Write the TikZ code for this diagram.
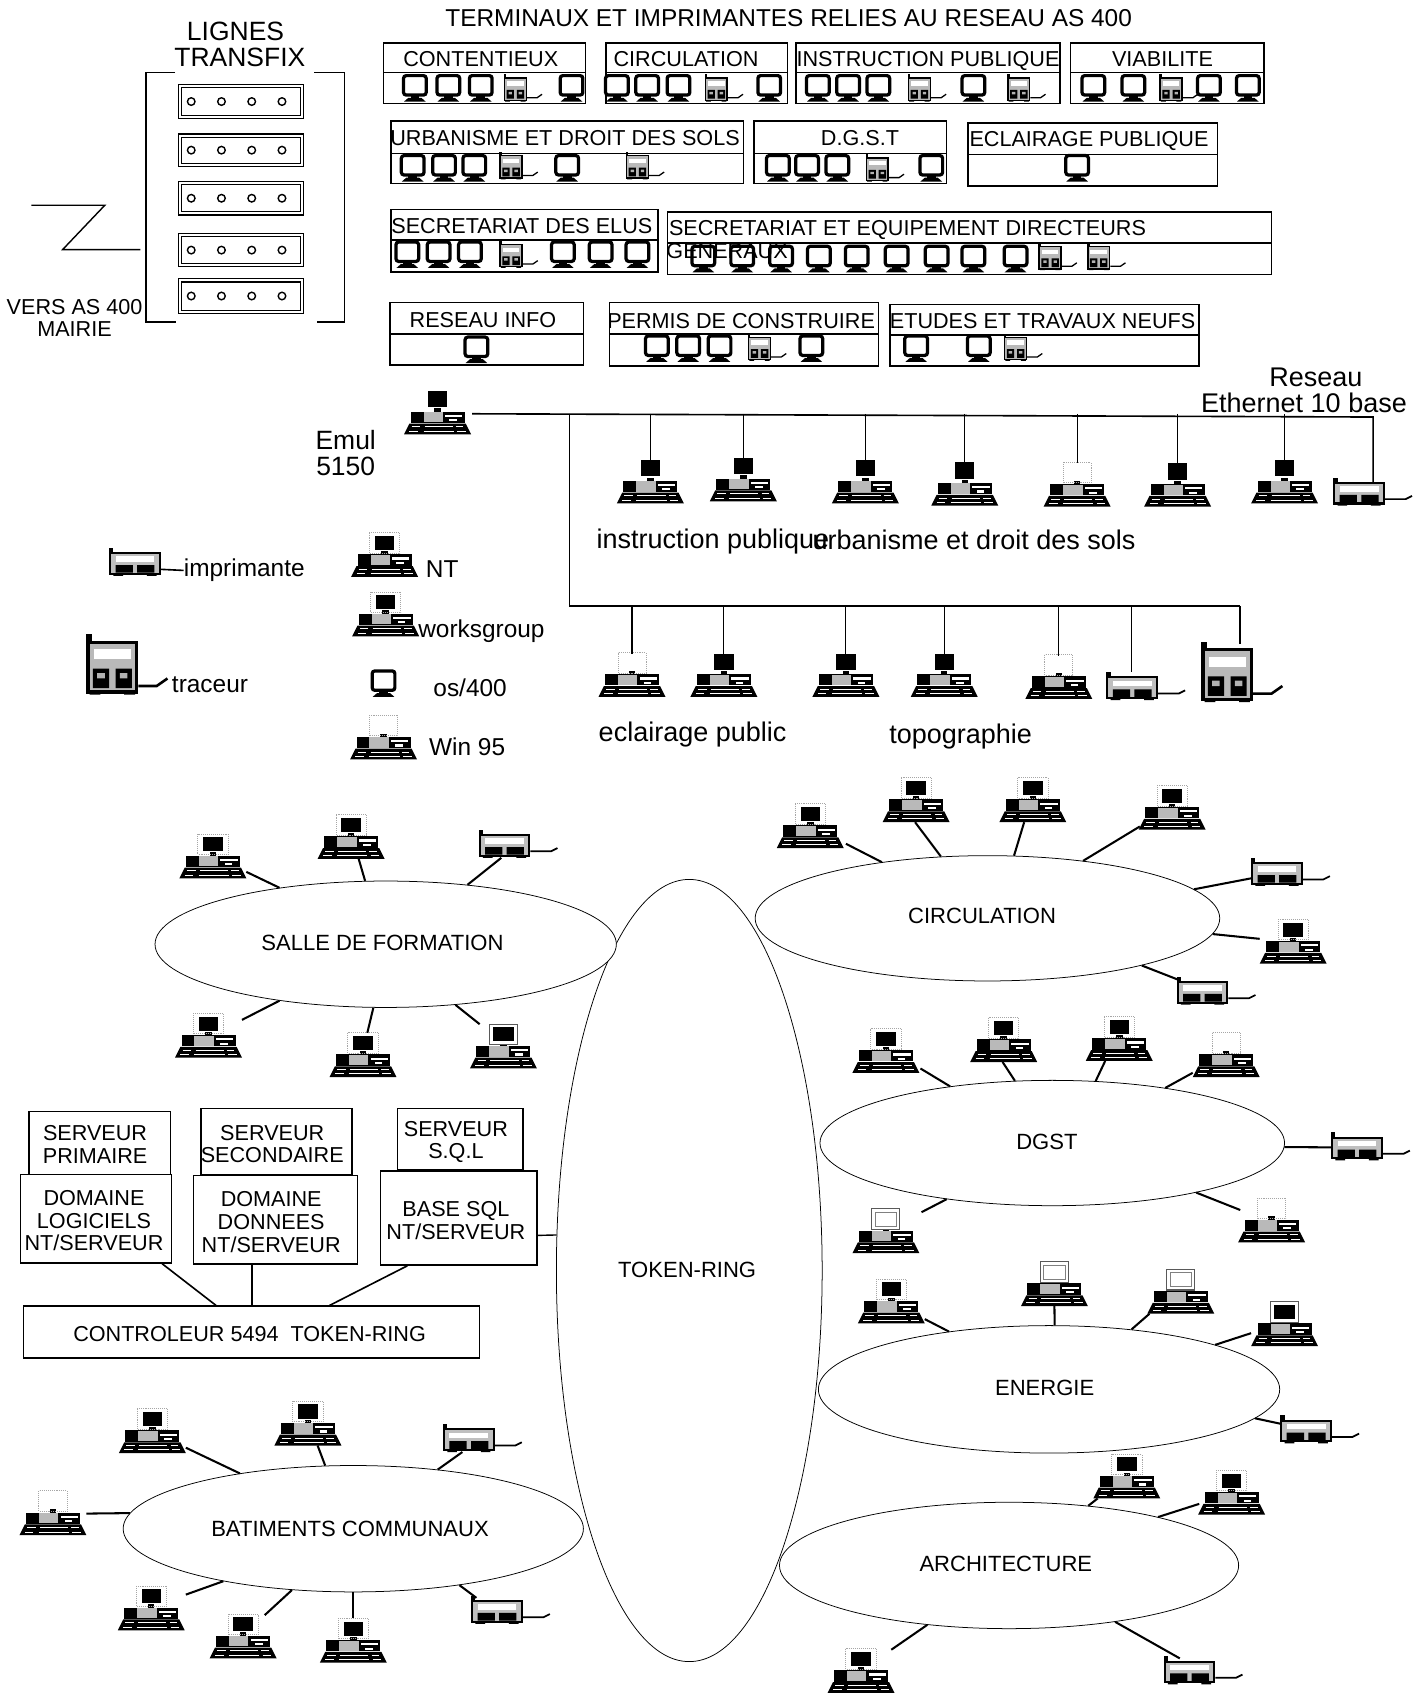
\documentclass[tikz,border=0pt]{standalone}
\usepackage{fontspec}
\setmainfont{Liberation Sans}
\usetikzlibrary{calc,shapes.geometric}
\newcommand\pcbase{%
 \fill[black] (-31,0)--(31,0)--(26,-10)--(-26,-10)--cycle;
 \draw[white,line width=.8] (-24,-7)--(-16,-7) (-12,-7)--(14,-7) (17,-7)--(24,-7) (-26,-3)--(-18,-3) (-13,-3)--(15,-3) (18,-3)--(26,-3);
 \fill[black] (-25,-21) rectangle (25,-10.5);
 \fill[gray!55] (-13,-20.5) rectangle (5,-11);
 \fill[white] (7,-18) rectangle (23,-16);
 \fill[white] (11,-14) rectangle (18,-12);
 \fill[black] (-3,-24) rectangle (3,-21);
 \coordinate (-top) at (0,-40);}
\newcommand\plotbody{%
 \fill[black] (-24,-50) rectangle (24,-1);
 \fill[black] (-24,-56) rectangle (-19,-50);
 \fill[black] (-21,0) rectangle (-11,-2) (11,0) rectangle (21,-2);
 \fill[gray!55] (-21,-47) rectangle (21,-4);
 \fill[white] (-17,-42) rectangle (17,-33);
 \fill[black] (-18,-24) rectangle (-3,-6) (3,-24) rectangle (18,-6);
 \fill[gray!60] (-14,-20) rectangle (-7,-15) (7,-20) rectangle (14,-15);}
\tikzset{
 pcb/.pic={\pcbase
  \draw[gray!70,densely dotted,line width=.8] (-14,-41) rectangle (14,-22);
  \fill[black] (-9,-38) rectangle (9,-25);},
 pcn/.pic={\pcbase
  \fill[black] (-9,-40) rectangle (9,-25);},
 pcw/.pic={\pcbase
  \draw[gray!70!black,fill=white,line width=1] (-13,-41) rectangle (13,-22);
  \draw[gray,line width=.6] (-10,-38) rectangle (10,-25);},
 pcf/.pic={\pcbase
  \draw[gray!70!black,fill=white,line width=1] (-13,-41) rectangle (13,-22);
  \fill[black] (-10,-38) rectangle (10,-25);},
 pcd/.pic={\pcbase
  \draw[gray!70,densely dotted,line width=.8] (-13,-41) rectangle (13,-22);},
 term/.pic={
  \draw[black,fill=white,line width=3,rounded corners=2.5] (-10.5,-24) rectangle (10.5,-6);
  \fill[black] (-4,-6) rectangle (4,-3);
  \fill[black] (-10,0)--(10,0)--(6,-3.5)--(-6,-3.5)--cycle;},
 plot/.pic={\plotbody
  \draw[black,line width=2.4] (24,-8)--(41,-8)--(51,-15);},
 plots/.pic={\plotbody
  \draw[black,line width=1.2] (24,-8)--(45,-8)--(55,-15);},
 prnbody/.pic={
  \fill[black] (-24,-22) rectangle (24,-1);
  \fill[black] (-24,-26) rectangle (-20,-22);
  \fill[black] (-20,0) rectangle (-11,-1.5) (11,0) rectangle (20,-1.5);
  \fill[gray!50] (-22,-20) rectangle (22,-3);
  \fill[white] (-18,-18) rectangle (18,-13);
  \fill[black] (-18,-10) rectangle (-2,-3) (2,-10) rectangle (18,-3);
  \coordinate (-r) at (24,-6);},
 prn/.pic={
  \pic {prnbody};
  \draw[black,line width=1.6] (24,-6)--(43,-6)--(49,-9);},
 box/.style={draw=black,line width=1.4},
 bigrule/.style={black,line width=1.5},
 wire/.style={black,line width=1.9},
 ring/.style={ellipse,draw=black,line width=.7,fill=white,inner sep=0},
 ringtxt/.style={inner sep=0,font=\fontsize{20.4}{23}\selectfont},
 srv/.style={rectangle,draw=black,line width=1.3,inner sep=0},
 srvtxt/.style={inner sep=0,align=center,font=\fontsize{20}{21}\selectfont},
 tb/.style={inner sep=0,text depth=0pt,font=\fontsize{20}{24}\selectfont},
 tl/.style={inner sep=0,anchor=west,font=\fontsize{22.6}{26}\selectfont},
 tn/.style={inner sep=0,anchor=west,font=\fontsize{25}{27}\selectfont},
 th/.style={inner sep=0,font=\fontsize{24.5}{26}\selectfont},
 tv/.style={inner sep=0,font=\fontsize{20}{22}\selectfont},
 unit/.style={draw=black,line width=1},
 hole/.style={circle,draw=black,line width=1.3,inner sep=0,minimum width=7,minimum height=7}
}
% name, x1,y1,x2,ysplit,y2, labelx,labely, label
\newcommand\tbox[9]{%
 \draw[box] (#2,#3) rectangle (#4,#6);
 \draw[box] (#2,#5) -- (#4,#5);
 \node[tb] (#1) at (#7,#8) {#9};}
\newcommand\terms[2]{\foreach \xx in {#2} {\pic at (\xx,#1) {term};}}
\newcommand\minis[2]{\foreach \xx in {#2} {\pic[scale=.45] at (\xx,#1) {plots};}}
\newcommand\rackunit[2]{%
 \draw[unit] (165,#1) rectangle (281,#2);
 \draw[unit] (168,{#1+3}) rectangle (278,{#2-3});
 \foreach \xx in {177,205,233,261} {\node[hole] at (\xx,{(#1+#2)/2}) {};}}
% free end name, ellipse, free x,y, aim x,y on border
\newcommand\lk[6]{%
 \coordinate (#1) at (#3,#4);
 \draw[wire] let \p1=($(#5,#6)-(#2.center)$),\n1={atan2(\y1,\x1)} in (#1) -- (#2.\n1);}
\begin{document}
\begin{tikzpicture}[x=1pt,y=-1pt]
\useasboundingbox (0,0) rectangle (1320,1568);
% --- title
\node[inner sep=0,font=\fontsize{22.6}{26}\selectfont] (title) at (730,17) {TERMINAUX ET IMPRIMANTES RELIES AU RESEAU AS 400};
% --- transfix
\node[th] (lignes) at (218,29) {LIGNES};
\node[th] (transfix) at (222,53) {TRANSFIX};
\draw[bigrule] (162,67)--(135,67)--(135,298)--(163,298);
\draw[bigrule] (291,67)--(319,67)--(319,298)--(293,298);
\rackunit{78}{110}
\rackunit{124}{154}
\rackunit{168}{199}
\rackunit{216}{247}
\rackunit{258}{290}
\draw[black,line width=1.3] (29,190)--(97,190)--(58,231)--(130,231);
\node[tv] (vers) at (69,284) {VERS AS 400};
\node[tv] (mairie) at (69,305) {MAIRIE};
% --- terminal boxes
\tbox{bcont}{355}{40}{542}{67}{96}{445}{55}{CONTENTIEUX}
\terms{94}{384,415,445,529}\minis{94}{477}
\tbox{bcirc}{561}{40}{729}{67}{96}{635}{55}{CIRCULATION}
\terms{94}{571,599,628,712}\minis{94}{663}
\tbox{binst}{737}{40}{981}{67}{96}{859}{55}{INSTRUCTION PUBLIQUE}
\terms{94}{757,785,813,901}\minis{94}{851,943}
\tbox{bvia}{991}{40}{1170}{67}{96}{1076}{55}{VIABILITE}
\terms{94}{1012,1049,1119,1155}\minis{94}{1084}
\tbox{burb}{362}{112}{688}{142}{170}{523}{128}{URBANISME ET DROIT DES SOLS}
\terms{168}{382,411,439,525}\minis{166}{473,590}
\tbox{bdgst}{698}{112}{876}{142}{170}{796}{128}{D.G.S.T}
\terms{168}{720,747,775,862}\minis{168}{812}
\tbox{becl}{896}{114}{1127}{143}{172}{1008}{129}{ECLAIRAGE PUBLIQUE}
\terms{168}{997}
\tbox{bsec}{362}{194}{609}{222}{252}{483}{209}{SECRETARIAT DES ELUS}
\terms{248}{377,406,435,521,556,590}\minis{248}{473}
\tbox{bsecd}{618}{196}{1177}{225}{254}{840}{211}{SECRETARIAT ET EQUIPEMENT DIRECTEURS}
\terms{252}{651,687,723,758,793,830,867,901,940}\minis{250}{972,1017}
\node[tb] (bsecd2) at (673,232) {GENERAUX};
\tbox{bres}{361}{280}{540}{309}{338}{447}{296}{RESEAU INFO}
\terms{336}{441}
\tbox{bper}{564}{280}{813}{309}{339}{686}{297}{PERMIS DE CONSTRUIRE}
\terms{335}{608,637,666,751}\minis{334}{703}
\tbox{betu}{824}{282}{1110}{310}{339}{965}{297}{ETUDES ET TRAVAUX NEUFS}
\terms{335}{848,906}\minis{334}{940}
% --- ethernet
\pic (emul) at (405,402) {pcn};
\node[th] (emula) at (320,407) {Emul};
\node[th] (emulb) at (320,432) {5150};
\node[inner sep=0,font=\fontsize{25}{27}\selectfont] (res1) at (1218,349) {Reseau};
\node[inner sep=0,font=\fontsize{25}{27}\selectfont] (res2) at (1207,373) {Ethernet 10 base};
\coordinate (busL) at (437,383);
\coordinate (busR) at (1271,386);
\coordinate (branch) at (527,383);
\coordinate (lowL) at (527,561);
\coordinate (lowR) at (1148,561);
\foreach \n/\x/\y/\k in {a/602/466/pcn,b/688/464/pcn,c/801/466/pcn,d/893/468/pcn,e/997/469/pcd,f/1090/469/pcn,g/1189/466/pcn}{
 \pic (u\n) at (\x,\y) {\k};
 \draw[black,line width=1] (u\n-top |- busL) -- (u\n-top);
}
\pic (uprn) at (1258,468) {prn};
\draw[bigrule] (busL) -- (busR) -- ++(0,61) coordinate (uprnT);
\draw[bigrule] (branch) -- (lowL) -- (lowR);
\node[tn] (inst) at (552,501) {instruction publique};
\node[tn] (urb) at (752,500) {urbanisme et droit des sols};
\foreach \n/\x/\y/\k in {a/585/645/pcd,b/670/645/pcn,c/783/645/pcn,d/874/645/pcn,e/980/647/pcd}{
 \pic (l\n) at (\x,\y) {\k};
 \draw[black,line width=1] (l\n-top |- lowL) -- (l\n-top);
}
\pic (lprn) at (1048,648) {prn};
\coordinate (lprnT) at (1047,622);
\draw[black,line width=1] (lprnT |- lowL) -- (lprnT);
\pic at (1136,650) {plot};
\coordinate (lplotT) at (1148,596);
\draw[bigrule] (lowR) -- (lplotT);
\node[tn] (ecl) at (554,680) {eclairage public};
\node[tn] (topo) at (823,682) {topographie};
% --- legend
\node[tl] (timp) at (170,528) {imprimante};
\pic (legp) at (125,533) {prnbody};
\draw[black,line width=1.5] (legp-r) -- (timp.west);
\pic at (104,643) {plot};
\node[tl] (ttrac) at (159,634) {traceur};
\pic at (356,534) {pcb};
\node[tl] (tnt) at (394,527) {NT};
\pic at (357,589) {pcb};
\node[tl] (twork) at (387,584) {worksgroup};
\pic at (355,645) {term};
\node[tl] (tos) at (401,637) {os/400};
\pic at (355,703) {pcd};
\node[tl] (twin) at (397,691) {Win 95};
% --- rings
\node[ring,minimum width=246,minimum height=724] (tr) at (638,1176) {};
\node[ringtxt] (trt) at (636,1175) {TOKEN-RING};
\node[ring,minimum width=427,minimum height=117] (sf) at (357,874) {};
\node[ringtxt] (sft) at (354,873) {SALLE DE FORMATION};
\node[ring,minimum width=430,minimum height=116] (ci) at (914,850) {};
\node[ringtxt] (cit) at (909,848) {CIRCULATION};
\node[ring,minimum width=430,minimum height=116] (dg) at (974,1058) {};
\node[ringtxt] (dgt) at (969,1057) {DGST};
\node[ring,minimum width=427,minimum height=118] (en) at (971,1286) {};
\node[ringtxt] (ent) at (967,1285) {ENERGIE};
\node[ring,minimum width=425,minimum height=117] (ar) at (934,1449) {};
\node[ringtxt] (art) at (931,1448) {ARCHITECTURE};
\node[ring,minimum width=426,minimum height=117] (ba) at (327,1415) {};
\node[ringtxt] (bat) at (324,1415) {BATIMENTS COMMUNAUX};
% salle
\pic at (197,813) {pcb}; \lk{sa}{sf}{228}{807}{256}{822}
\pic at (325,795) {pcb}; \lk{sb}{sf}{332}{795}{338}{816}
\pic at (467,794) {prn}; \lk{sc}{sf}{464}{794}{430}{819}
\pic at (193,979) {pcb}; \lk{sd}{sf}{224}{944}{257}{926}
\pic at (336,997) {pcb}; \lk{se}{sf}{340}{956}{345}{932}
\pic at (466,989) {pcf}; \lk{sg}{sf}{444}{948}{421}{930}
% circulation
\pic at (750,785) {pcb}; \lk{ca}{ci}{783}{781}{812}{796}
\pic at (848,761) {pcb}; \lk{cb}{ci}{847}{761}{869}{791}
\pic at (956,761) {pcb}; \lk{cc}{ci}{948}{761}{938}{791}
\pic at (1085,768) {pcb}; \lk{cd}{ci}{1055}{765}{1003}{796}
\pic at (1182,820) {prn}; \lk{ce}{ci}{1158}{813}{1103}{821}
\pic at (1197,892) {pcb}; \lk{cf}{ci}{1166}{869}{1123}{865}
\pic at (1113,930) {prn}; \lk{cg}{ci}{1091}{907}{1055}{895}
% dgst
\pic at (820,993) {pcb}; \lk{da}{dg}{852}{989}{878}{1005}
\pic at (929,983) {pcb}; \lk{db}{dg}{928}{983}{938}{1000}
\pic at (1036,982) {pcb}; \lk{dc}{dg}{1023}{982}{1013}{1001}
\pic at (1135,997) {pcd}; \lk{dd}{dg}{1104}{993}{1077}{1006}
\pic (dprn) at (1256,1074) {prn}; \lk{de}{dg}{1232}{1062}{1191}{1062}
\pic at (1177,1150) {pcd}; \lk{df}{dg}{1148}{1120}{1108}{1106}
\pic at (820,1160) {pcw}; \lk{dh}{dg}{853}{1122}{877}{1109}
% energie
\pic at (825,1225) {pcb}; \lk{ea}{en}{856}{1221}{876}{1233}
\pic at (976,1209) {pcw}; \lk{eb}{en}{976}{1209}{976}{1227}
\pic at (1093,1216) {pcw}; \lk{ec}{en}{1064}{1216}{1046}{1231}
\pic at (1189,1246) {pcf}; \lk{ed}{en}{1158}{1234}{1121}{1245}
\pic at (1209,1336) {prn}; \lk{ee}{en}{1186}{1318}{1160}{1314}
% architecture
\pic at (1043,1387) {pcb}; \lk{aa}{ar}{1016}{1387}{1006}{1394}
\pic at (1140,1402) {pcb}; \lk{ab}{ar}{1110}{1392}{1072}{1404}
\pic at (797,1567) {pcb}; \lk{ac}{ar}{825}{1527}{859}{1503}
\pic at (1101,1559) {prn}; \lk{ad}{ar}{1092}{1535}{1032}{1502}
% batiments
\pic at (141,1345) {pcb}; \lk{ga}{ba}{172}{1340}{220}{1364}
\pic at (285,1338) {pcb}; \lk{gb}{ba}{294}{1338}{301}{1357}
\pic at (434,1344) {prn}; \lk{gc}{ba}{428}{1344}{404}{1361}
\pic at (49,1421) {pcd}; \lk{gd}{ba}{80}{1401}{115}{1403}
\pic at (140,1509) {pcb}; \lk{ge}{ba}{172}{1476}{202}{1464}
\pic at (225,1535) {pcb}; \lk{gf}{ba}{245}{1495}{268}{1473}
\pic at (327,1539) {pcb}; \lk{gg}{ba}{327}{1498}{327}{1474}
\pic at (460,1503) {prn}; \lk{gh}{ba}{441}{1479}{427}{1469}
% --- servers
\node[srv,minimum width=131,minimum height=58] (s1) at (92.5,1058) {};
\node[srvtxt] (s1t) at (88,1059) {SERVEUR\\PRIMAIRE};
\node[srv,minimum width=140,minimum height=61] (s2) at (256,1056.5) {};
\node[srvtxt] (s2t) at (252,1059) {SERVEUR\\SECONDAIRE};
\node[srv,minimum width=116,minimum height=57] (s3) at (426,1054.5) {};
\node[srvtxt] (s3t) at (422,1057) {SERVEUR\\S.Q.L};
\node[srv,minimum width=140,minimum height=82] (dl) at (89,1128) {};
\node[srvtxt] (dlt) at (87,1130) {DOMAINE\\LOGICIELS\\NT/SERVEUR};
\node[srv,minimum width=152,minimum height=82] (dd) at (255,1129) {};
\node[srvtxt] (ddt) at (251,1131) {DOMAINE\\DONNEES\\NT/SERVEUR};
\node[srv,minimum width=145,minimum height=87] (bs) at (424.5,1127.5) {};
\node[srvtxt] (bst) at (422,1129.5) {BASE SQL\\NT/SERVEUR};
\node[srv,minimum width=422,minimum height=48] (ctrl) at (233,1233) {};
\node[srvtxt] (ctrlt) at (231,1235) {CONTROLEUR 5494\ \ TOKEN-RING};
\draw[black,line width=1.5] ($(dl.south)+(61,0)$) -- ($(ctrl.north)+(-33,0)$);
\draw[black,line width=1.5] ($(dd.south)+(-22,0)$) -- (ctrl.north);
\draw[black,line width=1.5] ($(bs.south)+(-47.5,0)$) -- ($(ctrl.north)+(72,0)$);
\draw[black,line width=1.3] ($(bs.east)+(0,16)$) -- (tr.165.4);
\end{tikzpicture}
\end{document}
